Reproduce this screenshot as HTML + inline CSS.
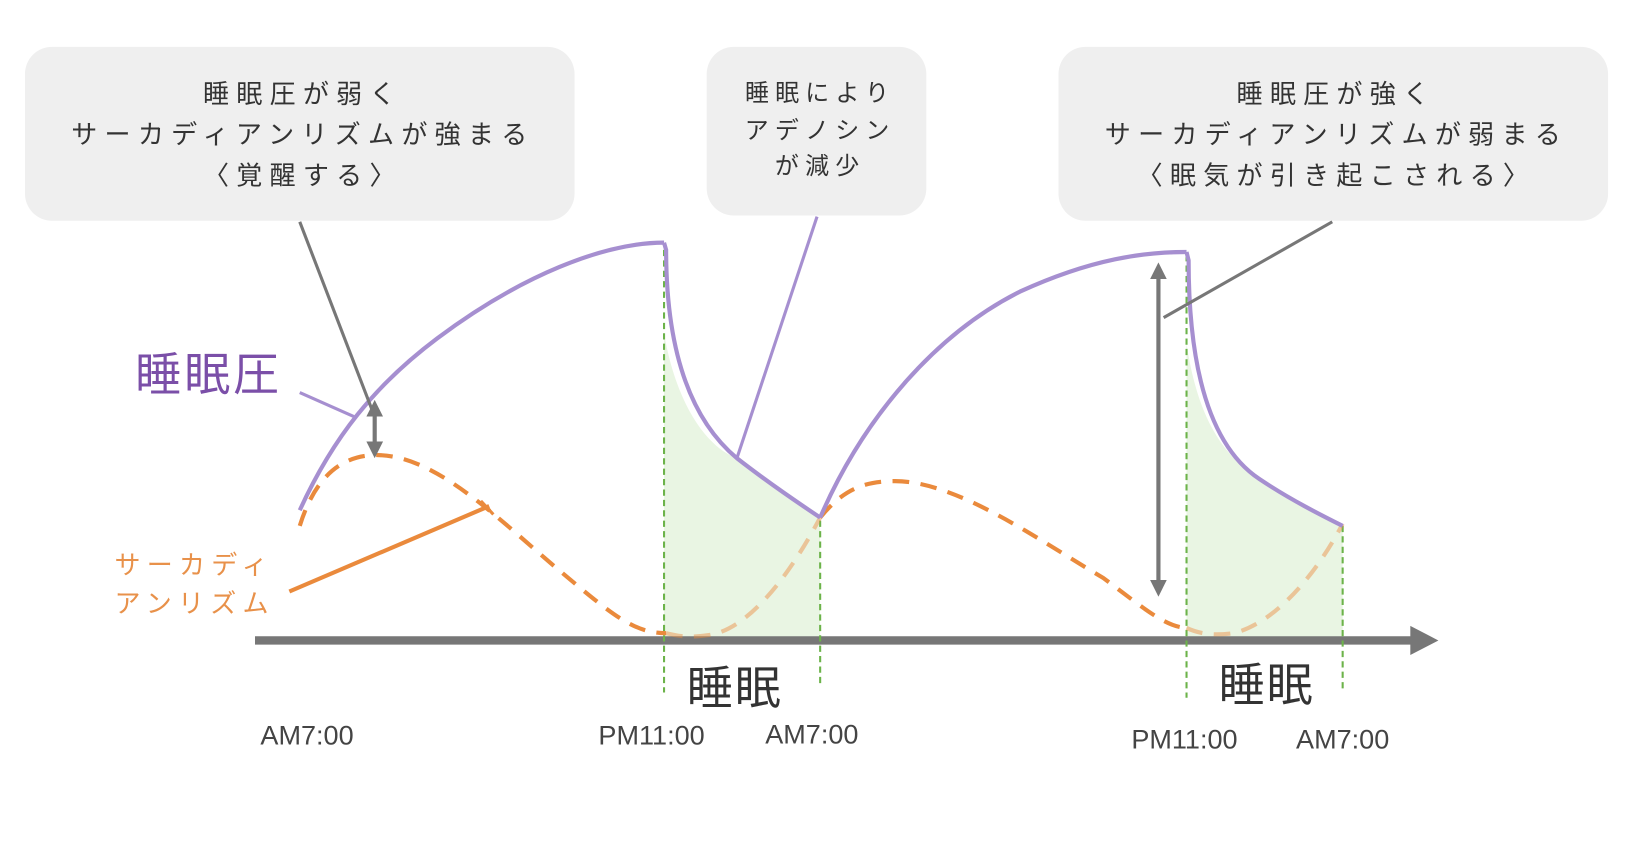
<!DOCTYPE html>
<html><head><meta charset="utf-8"><style>
html,body{margin:0;padding:0;background:#fff;}
svg{display:block}
text{font-family:"Liberation Sans","Noto Sans CJK JP",sans-serif;}
</style></head><body>
<svg width="1632" height="856" viewBox="0 0 1568 822" preserveAspectRatio="none" xmlns="http://www.w3.org/2000/svg">
<defs>
<marker id="ah" viewBox="0 0 10 10" refX="5" refY="5" markerWidth="4" markerHeight="4" orient="auto-start-reverse"><path d="M0,0 L10,5 L0,10 z" fill="#777"/></marker>
</defs>
<rect x="24" y="45" width="528" height="167" rx="26" fill="#efefef"/>
<rect x="679" y="45" width="211" height="162" rx="26" fill="#efefef"/>
<rect x="1017" y="45" width="528" height="167" rx="26" fill="#efefef"/>
<g fill="#333" font-size="25" text-anchor="middle" letter-spacing="7">
<text x="291" y="99">睡眠圧が弱く</text>
<text x="291" y="138">サーカディアンリズムが強まる</text>
<text x="291" y="177">〈覚醒する〉</text>
<text x="788" y="97" font-size="23" letter-spacing="6">睡眠により</text>
<text x="788" y="133" font-size="23" letter-spacing="6">アデノシン</text>
<text x="788" y="167" font-size="23" letter-spacing="6">が減少</text>
<text x="1284" y="99">睡眠圧が強く</text>
<text x="1284" y="138">サーカディアンリズムが弱まる</text>
<text x="1284" y="177">〈眠気が引き起こされる〉</text>
</g>
<path d="M638,240 L638,320 C650,390 680,430 708,440 C740,460 770,485 788,497 L788,612 L638,612 Z" fill="#e9f5e3"/>
<path d="M1140,245 L1140,330 C1152,410 1180,440 1210,460 C1240,480 1270,495 1290,505 L1290,612 L1140,612 Z" fill="#e9f5e3"/>
<line x1="245" y1="615" x2="1360" y2="615" stroke="#777" stroke-width="8"/>
<path d="M1355,601 L1382,615 L1355,629 Z" fill="#777"/>
<g stroke="#6cb34a" stroke-width="2" stroke-dasharray="6,4">
<line x1="638" y1="240" x2="638" y2="665"/>
<line x1="788" y1="500" x2="788" y2="660"/>
<line x1="1140" y1="245" x2="1140" y2="670"/>
<line x1="1290" y1="505" x2="1290" y2="662"/>
</g>
<g fill="none" stroke="#ea8a3c" stroke-width="4" stroke-dasharray="16,11">
<path d="M288,505 C305,450 335,437 362,437 C420,437 480,500 540,550 C590,592 610,608 640,608"/>
<path d="M788,497 C810,470 830,462 860,462 C920,462 1000,520 1060,555 C1100,585 1120,602 1140,603"/>
</g>
<g fill="none" stroke="#ea8a3c" stroke-opacity="0.45" stroke-width="4" stroke-dasharray="16,11">
<path d="M640,608 C655,612 665,612 680,610 C720,605 760,550 788,497"/>
<path d="M1140,603 C1155,610 1170,610 1185,608 C1220,600 1260,560 1290,503"/>
</g>
<g fill="none" stroke="#a68fd0" stroke-width="4">
<path d="M288,490 C320,420 360,370 420,325 C500,265 580,233 638,233"/>
<path d="M638,233 L640,240 C640,330 660,400 708,440 C740,465 770,485 788,497"/>
<path d="M788,497 C830,400 900,320 980,280 C1050,248 1100,242 1140,242"/>
<path d="M1140,242 L1142,250 C1142,360 1165,430 1210,460 C1240,480 1270,495 1290,505"/>
<line x1="288" y1="377" x2="340" y2="400" stroke-width="3"/>
<line x1="785" y1="208" x2="708" y2="440" stroke-width="3"/>
</g>
<g stroke="#777" stroke-width="3" fill="none">
<line x1="288" y1="213" x2="358" y2="395"/>
<line x1="1280" y1="213" x2="1118" y2="305"/>
<line x1="360" y1="392" x2="360" y2="432" stroke-width="4" marker-start="url(#ah)" marker-end="url(#ah)"/>
<line x1="1113" y1="260" x2="1113" y2="565" stroke-width="4" marker-start="url(#ah)" marker-end="url(#ah)"/>
</g>
<line x1="278" y1="568" x2="470" y2="486" stroke="#ea8a3c" stroke-width="4"/>
<line x1="462" y1="481" x2="474" y2="494" stroke="#ea8a3c" stroke-width="3"/>
<text x="130" y="375" font-size="44" fill="#7b4fa8" letter-spacing="3">睡眠圧</text>
<g fill="#e8914a" font-size="25" letter-spacing="6">
<text x="110" y="551">サーカディ</text>
<text x="110" y="588">アンリズム</text>
</g>
<g fill="#333" font-size="44" letter-spacing="2">
<text x="660" y="676">睡眠</text>
<text x="1171" y="673">睡眠</text>
</g>
<g fill="#444" font-size="26" text-anchor="middle">
<text x="295" y="715">AM7:00</text>
<text x="626" y="715">PM11:00</text>
<text x="780" y="714">AM7:00</text>
<text x="1138" y="719">PM11:00</text>
<text x="1290" y="719">AM7:00</text>
</g>
</svg>
</body></html>
